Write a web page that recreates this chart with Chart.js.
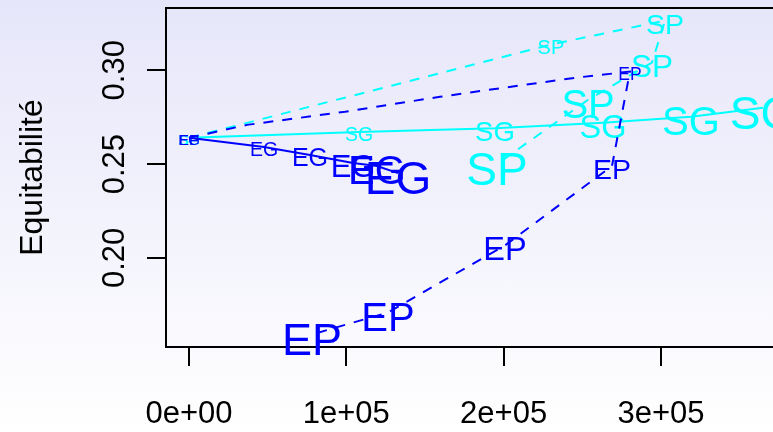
<!DOCTYPE html>
<html>
<head>
<meta charset="utf-8">
<script src="https://cdn.jsdelivr.net/npm/chart.js@4.4.0/dist/chart.umd.min.js"></script>
<style>
    html, body { margin: 0; padding: 0; overflow: hidden; }
    body { width: 773px; height: 432px; background: linear-gradient(to bottom, #e6e6fa, #ffffff); }
    #wrap { width: 800px; height: 432px; }
</style>
</head>
<body>
<div id="wrap"><canvas id="chart" width="800" height="432"></canvas></div>
<script>
// values
const egX = [0, 47700, 76900, 104300, 119500, 132900];
const egY = [0.2640, 0.2591, 0.2549, 0.2506, 0.2490, 0.2452];

const sgX = [0, 108100, 194500, 263200, 319100, 364900];
const sgY = [0.2640, 0.2671, 0.2691, 0.2720, 0.2752, 0.2800];

const spX = [0, 230100, 302600, 294300, 253700, 195800];
const spY = [0.2640, 0.3137, 0.3265, 0.3041, 0.2843, 0.2500];

// the EP path bends a little on the way up, so it has a few unlabelled vertices
const epX = [0, 36900, 99200, 159600, 245400, 280300, 268900, 200900, 126500, 78200];
const epY = [0.2640, 0.2709, 0.2779, 0.2859, 0.2960, 0.2993, 0.2490, 0.2067, 0.1709, 0.1592];

const xTicks = [0, 100000, 200000, 300000];
const xTickLabels = ['0e+00', '1e+05', '2e+05', '3e+05'];
const yTicks = [0.20, 0.25, 0.30];
const yTickLabels = ['0.20', '0.25', '0.30'];
const yTitle = 'Equitabilité';

// label font sizes (px) for each point, 0 = no label
const egSizes = [15, 19.5, 25, 31, 40, 46];
const sgSizes = [15, 19.5, 27.5, 32.5, 40, 46];
const spSizes = [15, 20, 28.5, 31.5, 40, 46];
const epSizes = [15, 0, 0, 0, 0, 17.5, 28.5, 32.5, 40, 45];

const FONT = '"Liberation Sans", Arial, Helvetica, sans-serif';
const BLUE = '#0000ff';
const CYAN = '#00ffff';

function toPoints(xs, ys) {
    return xs.map((x, i) => ({ x: x, y: ys[i] }));
}

// R style 4% extension of the data range
function paddedRange(values) {
    const lo = Math.min(...values);
    const hi = Math.max(...values);
    const pad = (hi - lo) * 0.04;
    return { min: lo - pad, max: hi + pad };
}

const xRange = paddedRange([...egX, ...sgX, ...spX, ...epX]);
const yRange = paddedRange([...egY, ...sgY, ...spY, ...epY]);

function makeSeries(text, xs, ys, sizes, color, dashed) {
    return {
        label: text,
        data: toPoints(xs, ys),
        labelText: text,
        labelSizes: sizes,
        showLine: true,
        borderColor: color,
        backgroundColor: color,
        borderWidth: 2,
        borderDash: dashed ? [10, 9] : [],
        pointRadius: 0,
        tension: 0
    };
}

const textLabels = {
    id: 'textLabels',
    afterDatasetDraw(chart, args) {
        const ds = chart.data.datasets[args.index];
        const ctx = chart.ctx;
        ctx.save();
        ctx.fillStyle = ds.borderColor;
        ctx.textAlign = 'center';
        ctx.textBaseline = 'alphabetic';
        args.meta.data.forEach((pt, i) => {
            const s = ds.labelSizes[i];
            if (!s) return;
            ctx.font = `${s}px ${FONT}`;
            ctx.fillText(ds.labelText, pt.x, pt.y + 0.46 * s);
        });
        ctx.restore();
    }
};

const plotBox = {
    id: 'plotBox',
    beforeDatasetsDraw(chart) {
        const { ctx, chartArea: a } = chart;
        ctx.save();
        ctx.strokeStyle = '#000';
        ctx.lineWidth = 2;
        ctx.strokeRect(a.left, a.top, a.right - a.left, a.bottom - a.top);
        ctx.restore();
    },
    afterDraw(chart) {
        // vertical y tick labels, R style
        const { ctx, chartArea: a } = chart;
        const y = chart.scales.y;
        ctx.save();
        ctx.fillStyle = '#000';
        ctx.font = `31px ${FONT}`;
        ctx.textAlign = 'center';
        ctx.textBaseline = 'middle';
        y.ticks.forEach((t, i) => {
            const py = y.getPixelForValue(t.value);
            ctx.save();
            ctx.translate(a.left - 51, py);
            ctx.rotate(-Math.PI / 2);
            ctx.fillText(yTickLabels[i], 0, 0);
            ctx.restore();
        });
        ctx.restore();
    }
};

const ctx = document.getElementById('chart').getContext('2d');
const chart = new Chart(ctx, {
    type: 'scatter',
    data: {
        // first dataset is drawn last (on top)
        datasets: [
            makeSeries('EP', epX, epY, epSizes, BLUE, true),
            makeSeries('EG', egX, egY, egSizes, BLUE, false),
            makeSeries('SP', spX, spY, spSizes, CYAN, true),
            makeSeries('SG', sgX, sgY, sgSizes, CYAN, false)
        ]
    },
    options: {
        responsive: false,
        animation: false,
        events: [],
        layout: { padding: { top: 8, right: 14, left: 0, bottom: 0 } },
        plugins: {
            legend: { display: false },
            tooltip: { enabled: false }
        },
        scales: {
            x: {
                type: 'linear',
                min: xRange.min,
                max: xRange.max,
                afterBuildTicks: s => { s.ticks = xTicks.map(v => ({ value: v })); },
                afterFit: s => { s.height = 85; },
                grid: { display: true, drawOnChartArea: false, drawTicks: true, tickLength: 19, color: '#000', lineWidth: 2 },
                border: { display: false },
                ticks: {
                    color: '#000',
                    padding: 30,
                    maxRotation: 0,
                    autoSkip: false,
                    font: { family: FONT, size: 31 },
                    callback: (v, i) => xTickLabels[i]
                }
            },
            y: {
                type: 'linear',
                min: yRange.min,
                max: yRange.max,
                afterBuildTicks: s => { s.ticks = yTicks.map(v => ({ value: v })); },
                afterFit: s => { s.width = 166; },
                grid: { display: true, drawOnChartArea: false, drawTicks: true, tickLength: 19, color: '#000', lineWidth: 2 },
                border: { display: false },
                ticks: { display: false },
                title: {
                    display: true,
                    text: yTitle,
                    color: '#000',
                    padding: { top: 14, bottom: 0 },
                    font: { family: FONT, size: 32 }
                }
            }
        }
    },
    plugins: [textLabels, plotBox]
});
</script>
</body>
</html>
